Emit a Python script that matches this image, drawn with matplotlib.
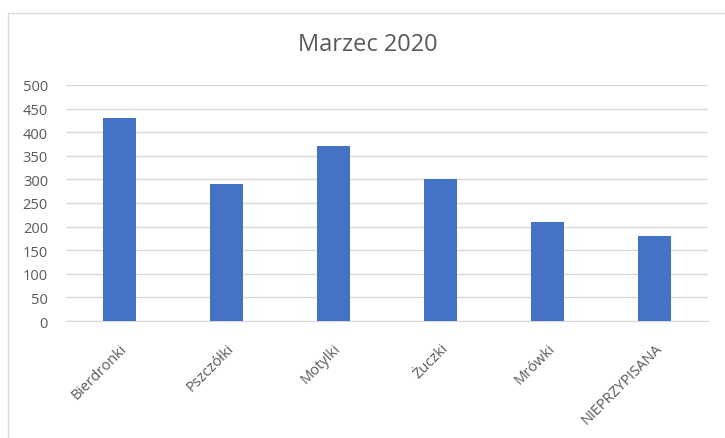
import matplotlib.pyplot as plt
from matplotlib.patches import Rectangle

kategorie = ["Bierdronki", "Pszczółki", "Motylki", "Żuczki", "Mrówki", "NIEPRZYPISANA"]
wartosci = [430, 290, 370, 300, 210, 180]
yticks = [0, 50, 100, 150, 200, 250, 300, 350, 400, 450, 500]

plt.rcParams["font.family"] = ["Open Sans", "DejaVu Sans"]
grey = "#595959"

fig = plt.figure(figsize=(7.25, 4.39), dpi=100)
ax = fig.add_axes([66/725, 1-322/439, 642/725, 236/439])

ax.bar(range(len(kategorie)), wartosci, width=0.3, color="#4472C4", zorder=3)
ax.set_xlim(-0.5, len(kategorie)-0.5)
ax.set_ylim(0, 500)
ax.set_yticks(yticks)
ax.yaxis.grid(True, color="#d9d9d9", linewidth=1, zorder=0)
ax.set_xticks(range(len(kategorie)))
ax.set_xticklabels(kategorie, rotation=45, ha="right", rotation_mode="anchor", fontsize=10.5, color=grey)
ax.tick_params(axis="y", labelsize=10.5, colors=grey, length=0, pad=13)
ax.tick_params(axis="x", length=0, pad=14)
for s in ["top", "right", "left"]:
    ax.spines[s].set_visible(False)
ax.spines["bottom"].set_color("#d9d9d9")

fig.suptitle("Marzec 2020", x=368/725, y=1-45/439, va="center", fontsize=17, color=grey)

# ramka wykresu (jak w Excelu)
fig.patches.append(Rectangle((8/725, -0.1), 1.2, 1.1 - 14/439, transform=fig.transFigure,
                             fill=False, edgecolor="#d9d9d9", linewidth=1))

fig.savefig("out.png", dpi=100)
